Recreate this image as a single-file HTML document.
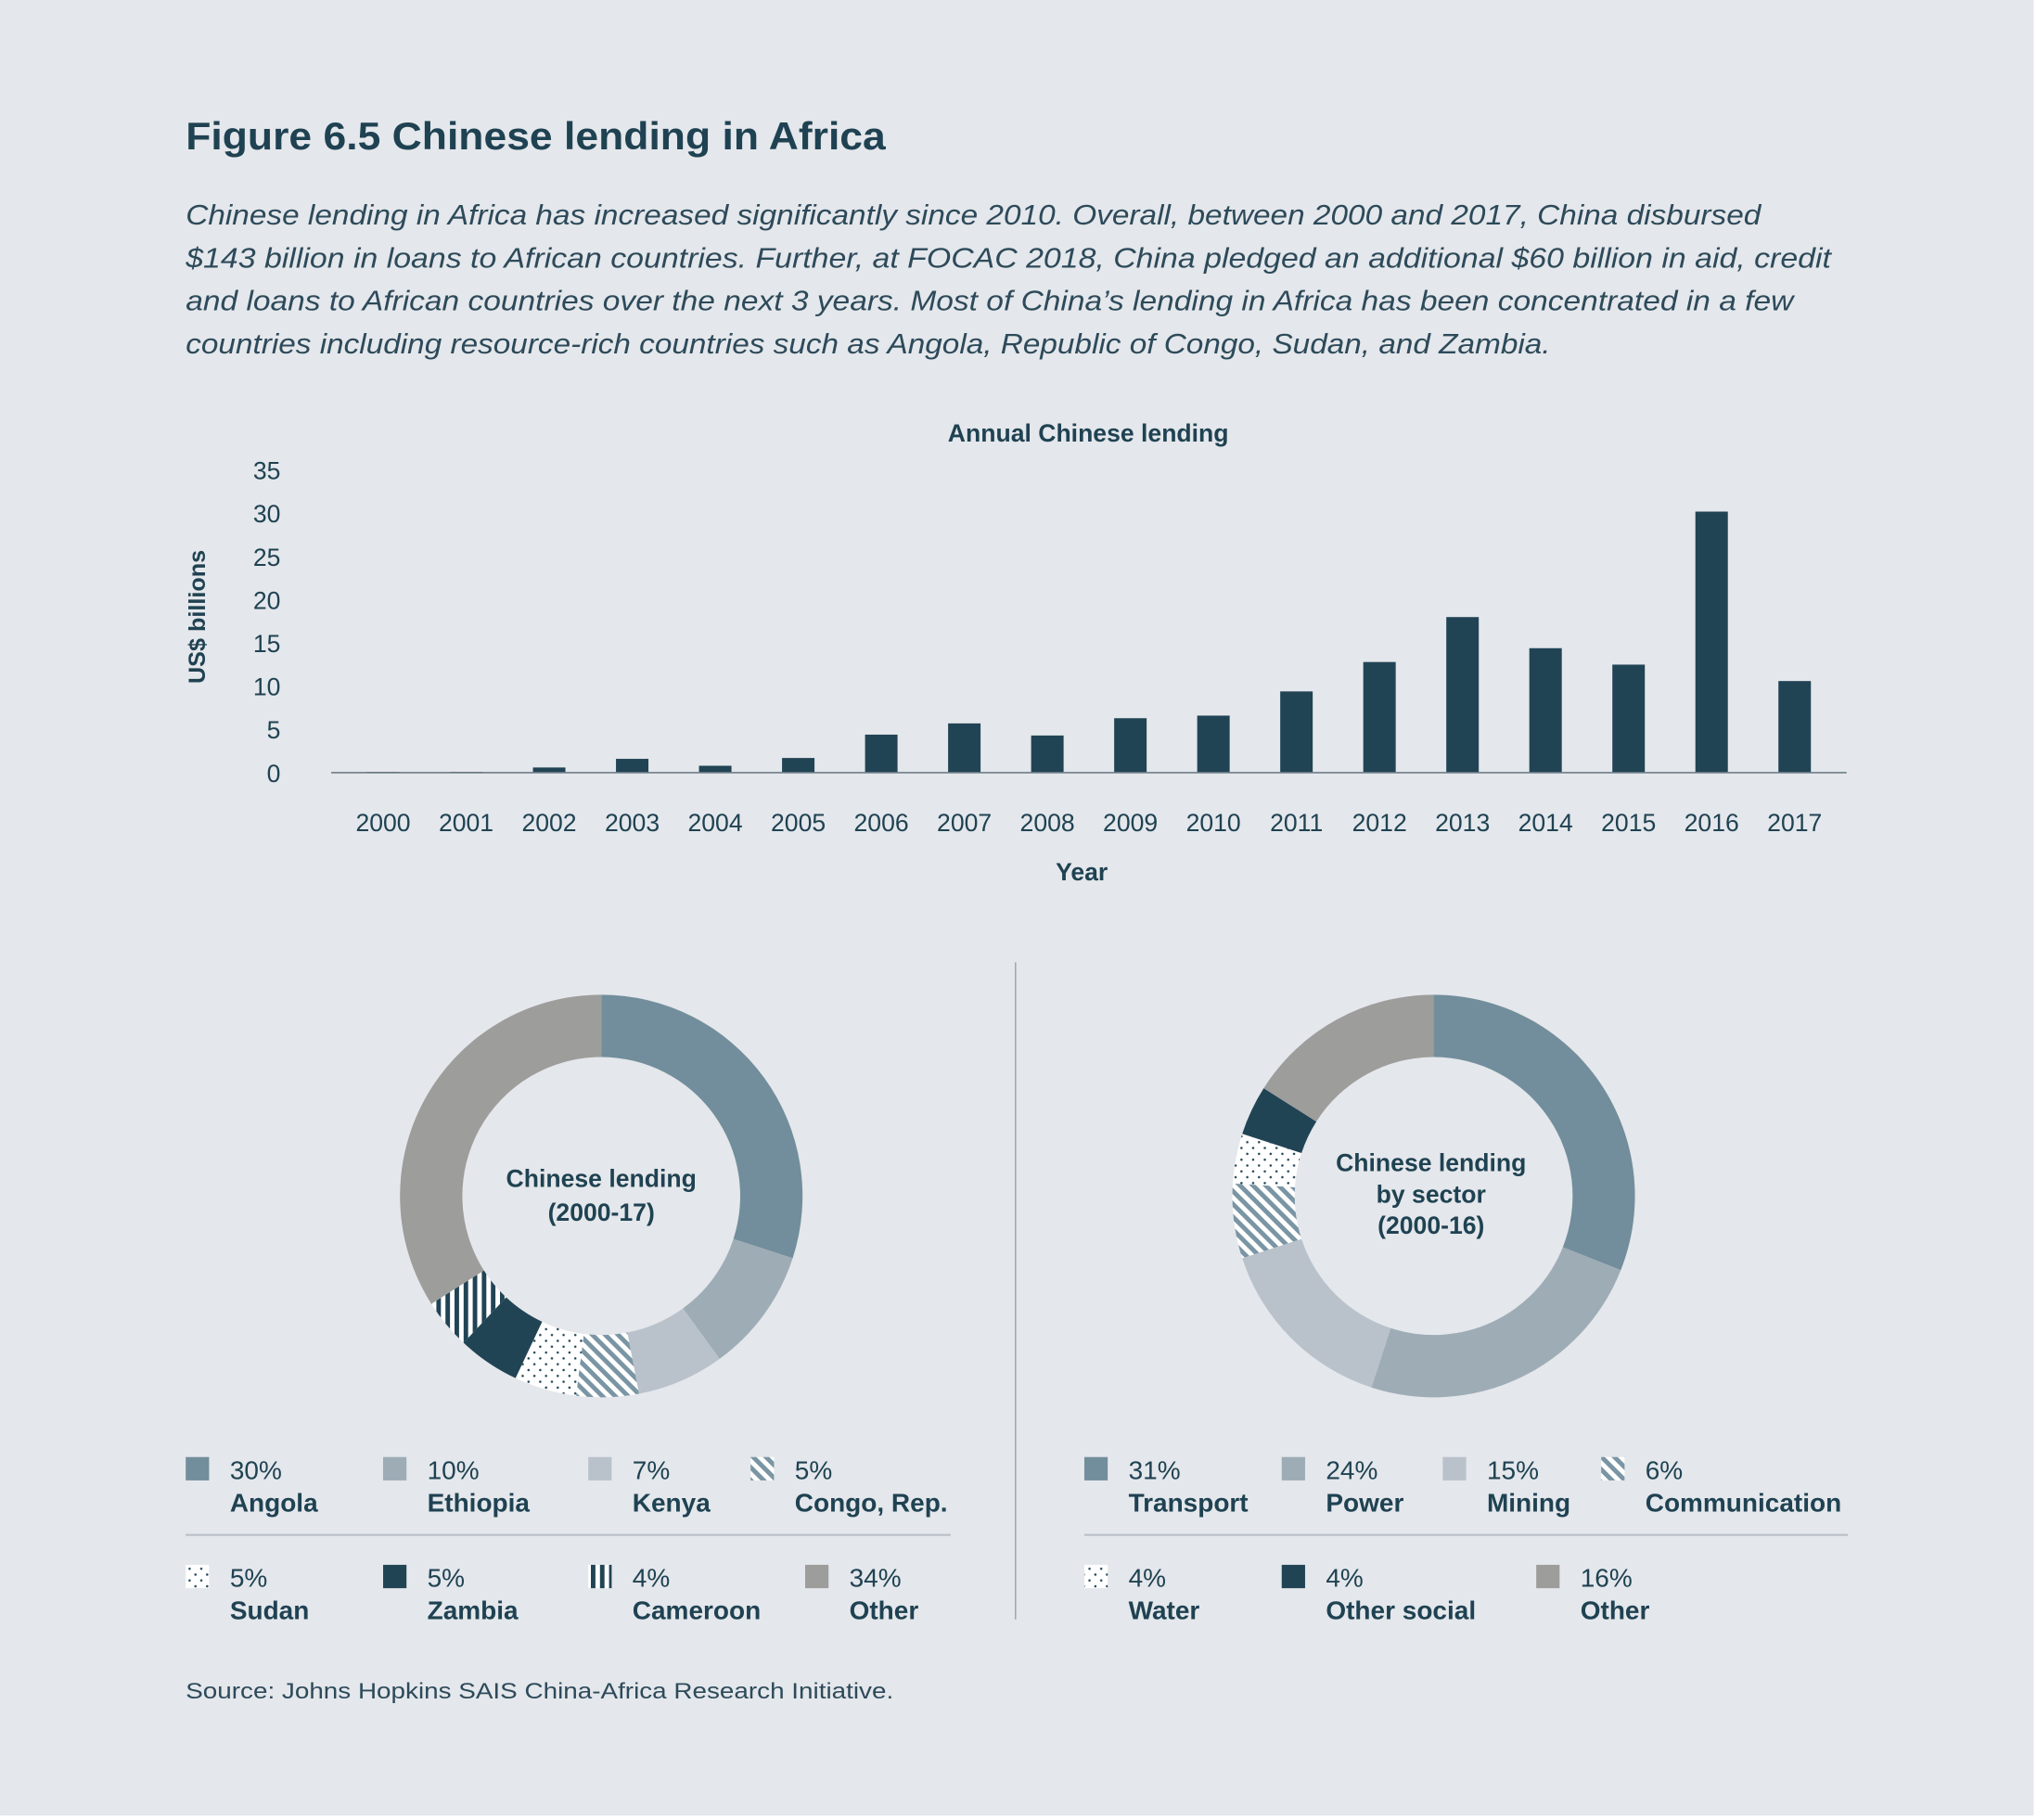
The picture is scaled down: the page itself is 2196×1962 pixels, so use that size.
<!DOCTYPE html>
<html><head><meta charset="utf-8"><style>
html,body{margin:0;padding:0;background:#fff}
svg{display:block}
text{font-family:"Liberation Sans",sans-serif;fill:#1f4252}
.b{font-weight:bold}
</style></head><body>
<svg id="fig" width="2196" height="1962" viewBox="0 0 1568.6 1401.5" xmlns="http://www.w3.org/2000/svg">
<defs>
<pattern id="diag" patternUnits="userSpaceOnUse" width="7" height="7" patternTransform="rotate(-45)"><rect width="7" height="7" fill="#fff"/><rect width="3.5" height="7" fill="#7a95a3"/></pattern>
<pattern id="dots" patternUnits="userSpaceOnUse" width="9" height="9"><rect width="9" height="9" fill="#fff"/><circle cx="2" cy="2" r="0.9" fill="#214455"/><circle cx="6.5" cy="6.5" r="0.9" fill="#214455"/></pattern>
<pattern id="vert" patternUnits="userSpaceOnUse" width="7" height="7"><rect width="7" height="7" fill="#fff"/><rect width="3.5" height="7" fill="#214455"/></pattern>
</defs>
<rect x="0" y="0" width="1566" height="1398" fill="#e4e7eb"/>
<text x="143" y="115" font-size="30" class="b" textLength="539" lengthAdjust="spacingAndGlyphs">Figure 6.5 Chinese lending in Africa</text>
<g font-size="22" font-style="italic">
<text x="143" y="173" textLength="1213" lengthAdjust="spacingAndGlyphs" style="fill:#2d4a5a">Chinese lending in Africa has increased significantly since 2010. Overall, between 2000 and 2017, China disbursed</text>
<text x="143" y="206" textLength="1267" lengthAdjust="spacingAndGlyphs" style="fill:#2d4a5a">$143 billion in loans to African countries. Further, at FOCAC 2018, China pledged an additional $60 billion in aid, credit</text>
<text x="143" y="239" textLength="1238" lengthAdjust="spacingAndGlyphs" style="fill:#2d4a5a">and loans to African countries over the next 3 years. Most of China’s lending in Africa has been concentrated in a few</text>
<text x="143" y="272" textLength="1051" lengthAdjust="spacingAndGlyphs" style="fill:#2d4a5a">countries including resource-rich countries such as Angola, Republic of Congo, Sudan, and Zambia.</text>
</g>
<text x="838" y="340" font-size="19" class="b" text-anchor="middle">Annual Chinese lending</text>
<text transform="translate(158,475) rotate(-90)" font-size="18" class="b" text-anchor="middle">US$ billions</text>
<text x="833" y="678" font-size="19" class="b" text-anchor="middle">Year</text>
<g id="bars"></g>
<line x1="782" y1="741" x2="782" y2="1247" stroke="#9aa3aa" stroke-width="1"/>
<g id="donut1"></g>
<g id="donut2"></g>
<g font-size="19" class="b" text-anchor="middle">
<text x="463" y="914" class="b">Chinese lending</text><text x="463" y="940" class="b">(2000-17)</text></g>
<g font-size="19" text-anchor="middle">
<text x="1102" y="902" class="b">Chinese lending</text><text x="1102" y="926" class="b">by sector</text><text x="1102" y="950" class="b">(2000-16)</text></g>
<line x1="143" y1="1182" x2="732" y2="1182" stroke="#b9c0c7" stroke-width="1.5"/>
<line x1="835" y1="1182" x2="1423" y2="1182" stroke="#b9c0c7" stroke-width="1.5"/>
<g id="legends"></g>
<text x="143" y="1308" font-size="17" textLength="545" lengthAdjust="spacingAndGlyphs" style="fill:#2d4a5a">Source: Johns Hopkins SAIS China-Africa Research Initiative.</text>
</svg>
<script>
const years=["2000","2001","2002","2003","2004","2005","2006","2007","2008","2009","2010","2011","2012","2013","2014","2015","2016","2017"];
const lending=[0.1,0.1,0.6,1.6,0.8,1.7,4.4,5.7,4.3,6.3,6.6,9.4,12.8,18.0,14.4,12.5,30.2,10.6];
const yTicks=[0,5,10,15,20,25,30,35];
const countryNames=["Angola","Ethiopia","Kenya","Congo, Rep.","Sudan","Zambia","Cameroon","Other"];
const countryShares=[30,10,7,5,5,5,4,34];
const sectorNames=["Transport","Power","Mining","Communication","Water","Other social","Other"];
const sectorShares=[31,24,15,6,4,4,16];

const NS="http://www.w3.org/2000/svg";
function mk(t,a,p){const e=document.createElementNS(NS,t);for(const k in a)e.setAttribute(k,a[k]);p.appendChild(e);return e;}
const y=v=>595-v*(233/35);
const x=i=>295+i*(1087/17);
const bars=document.getElementById('bars');
yTicks.forEach(t=>{const e=mk('text',{x:216,y:y(t)+7,'font-size':19,'text-anchor':'end'},bars);e.textContent=t;

});
lending.forEach((v,i)=>{const r=mk('rect',{x:x(i)-12.5,y:y(v),width:25,height:595-y(v),fill:'#214455'},bars);


const t=mk('text',{x:x(i),y:640,'font-size':19,'text-anchor':'middle'},bars);t.textContent=years[i];

});
const ax=mk('line',{x1:255,y1:595,x2:1422,y2:595,stroke:'#6e7f8a','stroke-width':1.2},bars);



const fills1=['#728e9c','#9eacb6','#b9c2cb','url(#diag)','url(#dots)','#214455','url(#vert)','#9d9d9c'];
const fills2=['#728e9c','#9eacb6','#b9c2cb','url(#diag)','url(#dots)','#214455','#9d9d9c'];
function donut(g,cx,cy,shares,names,fills,prefix){
  const R=155,r=107,tot=shares.reduce((a,b)=>a+b,0);let a0=0;
  shares.forEach((s,i)=>{const a1=a0+s/tot*2*Math.PI;
    const p=(a,rr)=>[cx+rr*Math.sin(a),cy-rr*Math.cos(a)];
    const [x1,y1]=p(a0,R),[x2,y2]=p(a1,R),[x3,y3]=p(a1,r),[x4,y4]=p(a0,r);const lg=(a1-a0)>Math.PI?1:0;
    const e=mk('path',{d:`M${x1},${y1}A${R},${R} 0 ${lg} 1 ${x2},${y2}L${x3},${y3}A${r},${r} 0 ${lg} 0 ${x4},${y4}Z`,fill:fills[i]},g);
    
    
    a0=a1;});
}
donut(document.getElementById('donut1'),463,921,countryShares,countryNames,fills1,'country');
donut(document.getElementById('donut2'),1104,921,sectorShares,sectorNames,fills2,'sector');

const lg=document.getElementById('legends');
function legend(names,shares,fills,cols1,cols2,prefix){
  names.forEach((n,i)=>{const row=Math.floor(i/4),c=i%4;const lx=row?cols2[c]:cols1[c],ly=row?1205:1122;
    const g=mk('g',{},lg);
    
    
    mk('rect',{x:lx,y:ly,width:18,height:18,fill:fills[i]},g);
    const t1=mk('text',{x:lx+34,y:ly+17,'font-size':20},g);t1.textContent=shares[i]+'%';
    const t2=mk('text',{x:lx+34,y:ly+42,'font-size':20,'font-weight':'bold'},g);t2.textContent=n;});
}
legend(countryNames,countryShares,fills1,[143,295,453,578],[143,295,453,620],'country');
legend(sectorNames,sectorShares,fills2,[835,987,1111,1233],[835,987,1183],'sector');
</script>
</body></html>
